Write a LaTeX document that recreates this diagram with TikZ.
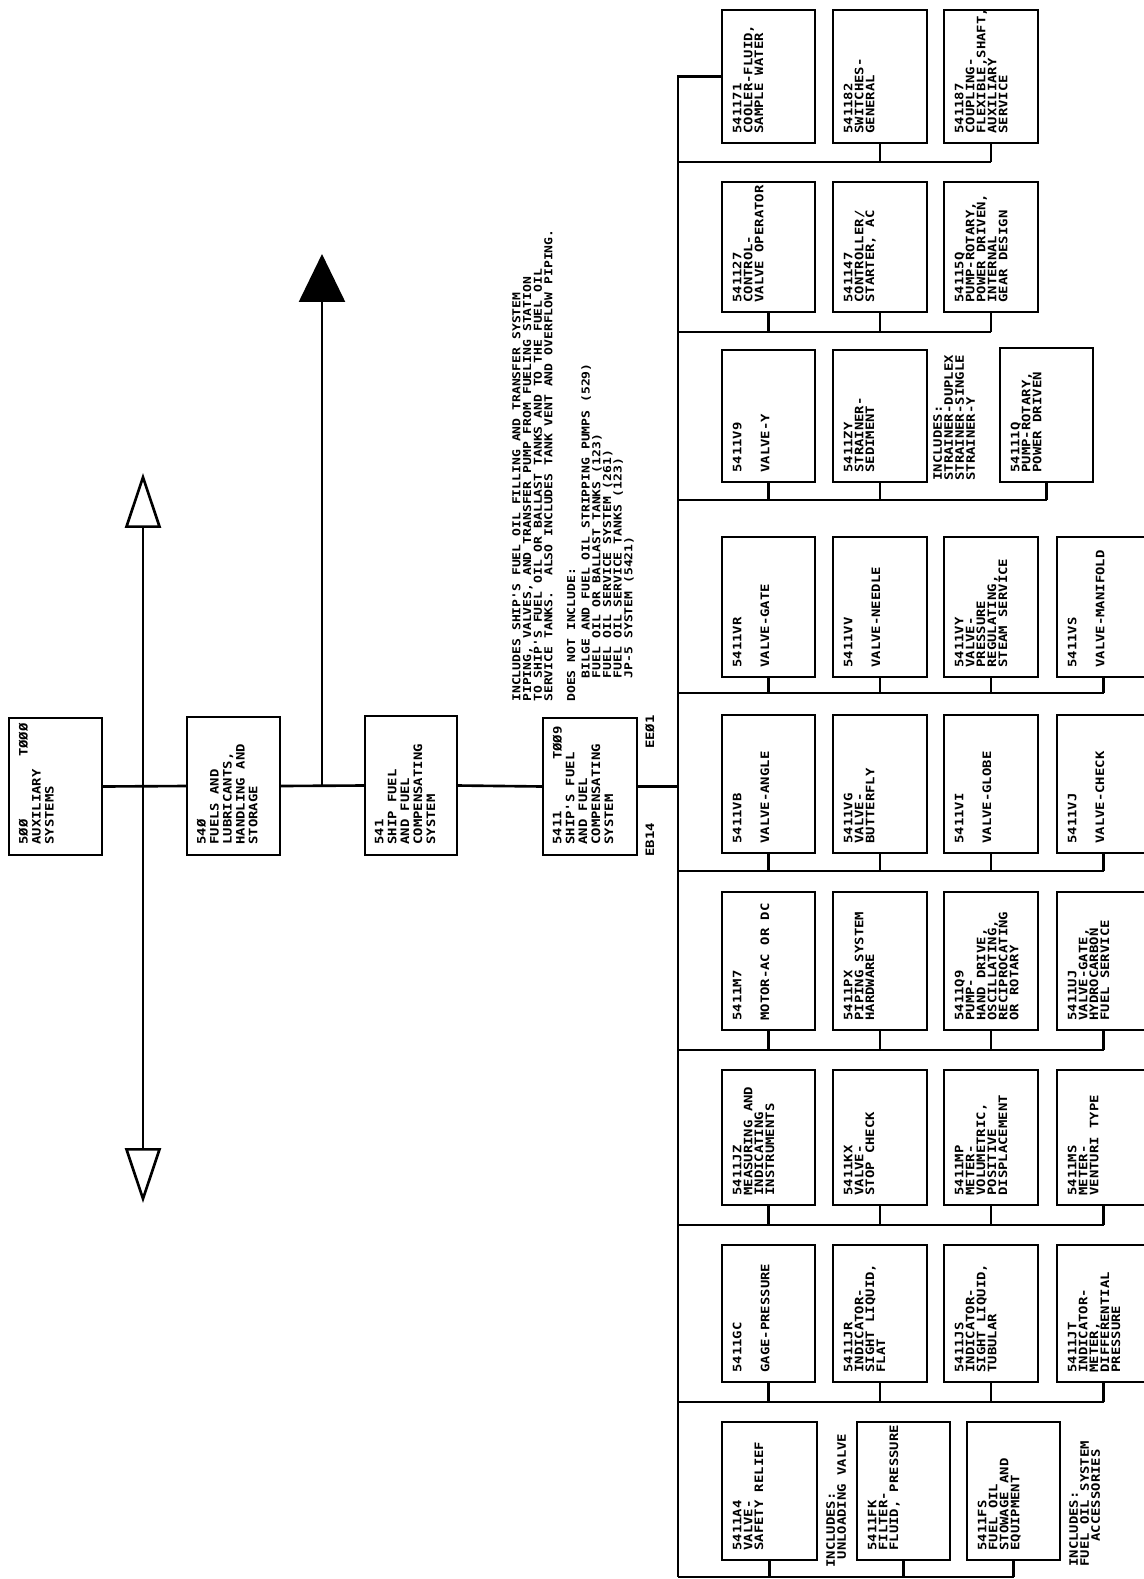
\documentclass[tikz,border=0pt]{standalone}
\usepackage{fontspec}
\usetikzlibrary{arrows.meta}
\newfontfamily\tw[FakeStretch=1.2]{DejaVu Sans Mono}
\newdimen\pxu \pxu=0.56693pt
\newcommand\bxf{\tw\bfseries\fontsize{6.6pt}{6.24pt}\selectfont}
\newcommand\trf{\tw\bfseries\fontsize{6.6pt}{7.37pt}\selectfont}
\newcommand\dsf{\tw\bfseries\fontsize{6.2pt}{6.07pt}\selectfont}
\newcommand\gp{\\[17\pxu]}
\tikzset{
  ln/.style={line width=1.5pt},
  bxst/.style={draw, line width=1.5pt, rectangle, inner sep=0pt, outer sep=0pt},
  bt/.style={rotate=90, anchor=north west, inner sep=0pt, align=left, font=\bxf},
  tt/.style={rotate=90, anchor=north west, inner sep=0pt, align=left, font=\trf},
}
% grid box: name, x1, y1, x2, y2, text
\newcommand\bx[6]{%
  \node[bxst, minimum width={(#4-#2)*0.02cm}, minimum height={(#5-#3)*0.02cm}] (#1) at ({(#2+#4)/2},{(#3+#5)/2}) {};
  \node[bt] (#1t) at ([shift={(10.5,-9)}]#1.south west) {#6};
}
% trunk box
\newcommand\tbx[6]{%
  \node[bxst, minimum width={(#4-#2)*0.02cm}, minimum height={(#5-#3)*0.02cm}] (#1) at ({(#2+#4)/2},{(#3+#5)/2}) {};
  \node[tt] (#1t) at ([shift={(9.5,-10)}]#1.south west) {#6};
}
\begin{document}
\begin{tikzpicture}[x=0.02cm, y=-0.02cm]
\useasboundingbox[fill=white] (0,0) rectangle (1143,1579);

% ---- trunk ----
\tbx{n500}{9}{718}{102}{855}{5ØØ\\AUXILIARY\\SYSTEMS}
\node[tt, anchor=north east] (t500) at ([shift={(9.5,5)}]n500.north west) {TØØØ};
\tbx{n540}{187}{717}{280}{855}{54Ø\\FUELS AND\\LUBRICANTS,\\HANDLING AND\\STORAGE}
\tbx{n541}{365}{716}{457}{855}{541\\SHIP FUEL\\AND FUEL\\COMPENSATING\\SYSTEM}
\tbx{n5411}{543}{718}{637}{855}{5411\\SHIP'S FUEL\\AND FUEL\\COMPENSATING\\SYSTEM}
\node[tt, anchor=north east] (t5411) at ([shift={(9.5,8)}]n5411.north west) {TØØ9};
\node[rotate=90, anchor=west, inner sep=0pt, font=\bxf] (eb14) at (650,857) {EB14};
\node[rotate=90, anchor=east, inner sep=0pt, font=\bxf] (ee01) at (650,715) {EEØ1};

\coordinate (dT) at (143,473);
\coordinate (dB) at (143,1203);
\draw[ln, {Triangle[open,length=1.1cm,width=0.72cm]}-{Triangle[open,length=1.1cm,width=0.72cm]}] (dT) -- (dB);
\coordinate (j2) at (322,786.5);
\coordinate (up) at (322,254);
\draw[ln, -{Triangle[length=0.96cm,width=0.92cm]}] (j2) -- (up);

\draw[ln] (n500.east) -- (n540.west);
\draw[ln] (n540.east) -- (n541.west);
\draw[ln] (n541.east) -- (n5411.west);

% ---- description ----
\node[rotate=90, anchor=north west, inner sep=0pt, align=left, font=\dsf] (desc) at (512,702) {%
INCLUDES SHIP'S FUEL OIL FILLING AND TRANSFER SYSTEM\\
PIPING, VALVES, AND TRANSFER PUMP FROM FUELING STATION\\
TO SHIP'S FUEL OIL OR BALLAST TANKS AND TO THE FUEL OIL\\
SERVICE TANKS.~ ALSO INCLUDES TANK VENT AND OVERFLOW PIPING.\\[12\pxu]
DOES NOT INCLUDE:\\[4\pxu]
\phantom{XXX}BILGE AND FUEL OIL STRIPPING PUMPS (529)\\
\phantom{XXX}FUEL OIL OR BALLAST TANKS (123)\\
\phantom{XXX}FUEL OIL SERVICE SYSTEM (261)\\
\phantom{XXX}FUEL OIL SERVICE TANKS (123)\\
\phantom{XXX}JP-5 SYSTEM (5421)};

% ---- grid ----
\bx{c171}{722}{10}{815}{143}{541171\\COOLER-FLUID,\\SAMPLE WATER}
\bx{c182}{833}{10}{927}{143}{541182\\SWITCHES-\\GENERAL}
\bx{c187}{944}{10}{1038}{143}{541187\\COUPLING-\\FLEXIBLE,SHAFT,\\AUXILIARY\\SERVICE}

\bx{c127}{722}{182}{815}{312}{541127\\CONTROL-\\VALVE OPERATOR}
\bx{c147}{833}{182}{927}{312}{541147\\CONTROLLER/\\STARTER, AC}
\bx{c15q}{944}{182}{1038}{312}{54115Q\\PUMP-ROTARY,\\POWER DRIVEN,\\INTERNAL\\GEAR DESIGN}

\bx{cv9}{722}{350}{815}{482}{5411V9\gp VALVE-Y}
\bx{czy}{833}{350}{927}{482}{5411ZY\\STRAINER-\\SEDIMENT}
\node[bt] (incC) at (933,481) {INCLUDES:\\STRAINER-DUPLEX\\STRAINER-SINGLE\\STRAINER-Y};
\bx{c1q}{1000}{348}{1093}{482}{54111Q\\PUMP-ROTARY,\\POWER DRIVEN}

\bx{vr}{722}{537}{815}{677}{5411VR\gp VALVE-GATE}
\bx{vv}{833}{537}{927}{677}{5411VV\gp VALVE-NEEDLE}
\bx{vy}{944}{537}{1038}{677}{5411VY\\VALVE-\\PRESSURE\\REGULATING,\\STEAM SERVICE}
\bx{vs}{1057}{537}{1150}{677}{5411VS\gp VALVE-MANIFOLD}

\bx{vb}{722}{715}{815}{853}{5411VB\gp VALVE-ANGLE}
\bx{vg}{833}{715}{927}{853}{5411VG\\VALVE-\\BUTTERFLY}
\bx{vi}{944}{715}{1038}{853}{5411VI\gp VALVE-GLOBE}
\bx{vj}{1057}{715}{1150}{853}{5411VJ\gp VALVE-CHECK}

\bx{m7}{722}{892}{815}{1030}{5411M7\gp MOTOR-AC OR DC}
\bx{px}{833}{892}{927}{1030}{5411PX\\PIPING SYSTEM\\HARDWARE}
\bx{q9}{944}{892}{1038}{1030}{5411Q9\\PUMP-\\HAND DRIVE,\\OSCILLATING,\\RECIPROCATING\\OR ROTARY}
\bx{uj}{1057}{892}{1150}{1030}{5411UJ\\VALVE-GATE,\\HYDROCARBON\\FUEL SERVICE}

\bx{jz}{722}{1070}{815}{1205}{5411JZ\\MEASURING AND\\INDICATING\\INSTRUMENTS}
\bx{kx}{833}{1070}{927}{1205}{5411KX\\VALVE-\\STOP CHECK}
\bx{mp}{944}{1070}{1038}{1205}{5411MP\\METER-\\VOLUMETRIC,\\POSITIVE\\DISPLACEMENT}
\bx{ms}{1057}{1070}{1150}{1205}{5411MS\\METER-\\VENTURI TYPE}

\bx{gc}{722}{1245}{815}{1382}{5411GC\gp GAGE-PRESSURE}
\bx{jr}{833}{1245}{927}{1382}{5411JR\\INDICATOR-\\SIGHT LIQUID,\\FLAT}
\bx{js}{944}{1245}{1038}{1382}{5411JS\\INDICATOR-\\SIGHT LIQUID,\\TUBULAR}
\bx{jt}{1057}{1245}{1150}{1382}{5411JT\\INDICATOR-\\METER,\\DIFFERENTIAL\\PRESSURE}

\bx{a4}{722}{1422}{817}{1560}{5411A4\\VALVE-\\SAFETY RELIEF}
\node[bt] (incI1) at (826,1568) {INCLUDES:\\\phantom{X}UNLOADING VALVE};
\bx{fk}{857}{1422}{950}{1560}{5411FK\\FILTER-\\FLUID, PRESSURE}
\bx{fs}{967}{1422}{1060}{1560}{5411FS\\FUEL OIL\\STOWAGE AND\\EQUIPMENT}
\node[bt] (incI2) at (1069,1567) {INCLUDES:\\FUEL OIL SYSTEM\\\phantom{XXX}ACCESSORIES};

% ---- bus and branches ----
\coordinate (busB) at (678,1577);
\draw[ln] (c171.west) -| (busB);
\draw[ln] (n5411.east) -- (n5411.east -| busB);

\coordinate (gA) at (678,162);
\draw[ln] (gA) -- (c187.south |- gA);
\foreach \b in {c182,c187} \draw[ln] (\b.south) -- (\b.south |- gA);

\coordinate (gB) at (678,332);
\draw[ln] (gB) -- (c15q.south |- gB);
\foreach \b in {c127,c147,c15q} \draw[ln] (\b.south) -- (\b.south |- gB);

\coordinate (gC) at (678,500);
\draw[ln] (gC) -- (c1q.south |- gC);
\foreach \b in {cv9,czy,c1q} \draw[ln] (\b.south) -- (\b.south |- gC);

\coordinate (gD) at (678,693);
\draw[ln] (gD) -- (vs.south |- gD);
\foreach \b in {vr,vv,vy,vs} \draw[ln] (\b.south) -- (\b.south |- gD);

\coordinate (gE) at (678,871);
\draw[ln] (gE) -- (vj.south |- gE);
\foreach \b in {vb,vg,vi,vj} \draw[ln] (\b.south) -- (\b.south |- gE);

\coordinate (gF) at (678,1050);
\draw[ln] (gF) -- (uj.south |- gF);
\foreach \b in {m7,px,q9,uj} \draw[ln] (\b.south) -- (\b.south |- gF);

\coordinate (gG) at (678,1225);
\draw[ln] (gG) -- (ms.south |- gG);
\foreach \b in {jz,kx,mp,ms} \draw[ln] (\b.south) -- (\b.south |- gG);

\coordinate (gH) at (678,1402);
\draw[ln] (gH) -- (jt.south |- gH);
\foreach \b in {gc,jr,js,jt} \draw[ln] (\b.south) -- (\b.south |- gH);

\draw[ln] (busB) -- (fs.south |- busB);
\foreach \b in {a4,fk,fs} \draw[ln] (\b.south) -- (\b.south |- busB);
\end{tikzpicture}
\end{document}
